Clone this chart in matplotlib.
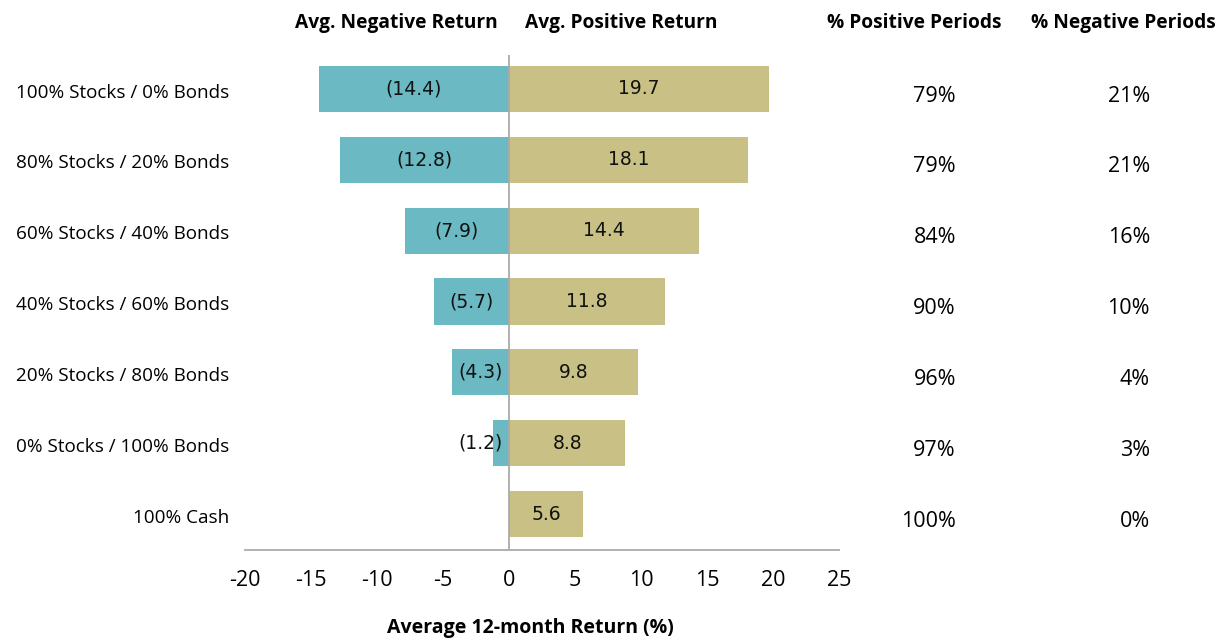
import matplotlib
matplotlib.use("Agg")
import matplotlib.pyplot as plt
import matplotlib.transforms as mtransforms

# data
portfolios = [
    "100% Stocks / 0% Bonds",
    "80% Stocks / 20% Bonds",
    "60% Stocks / 40% Bonds",
    "40% Stocks / 60% Bonds",
    "20% Stocks / 80% Bonds",
    "0% Stocks / 100% Bonds",
    "100% Cash",
]
avg_negative = [-14.4, -12.8, -7.9, -5.7, -4.3, -1.2, 0.0]
avg_positive = [19.7, 18.1, 14.4, 11.8, 9.8, 8.8, 5.6]
pct_positive = ["79%", "79%", "84%", "90%", "96%", "97%", "100%"]
pct_negative = ["21%", "21%", "16%", "10%", "4%", "3%", "0%"]
x_ticks = [-20, -15, -10, -5, 0, 5, 10, 15, 20, 25]

TEAL = "#6bb9c3"
KHAKI = "#c8c085"
GRID = "#aaaaaa"
FONT = "Open Sans"
LABEL_FONT = "DejaVu Sans"

fig = plt.figure(figsize=(12.21, 6.39), dpi=100)
ax = fig.add_axes([0.2007, 0.139, 0.4865, 0.775])

rows = list(range(len(portfolios)))
ax.barh(rows, avg_negative, height=0.65, color=TEAL, zorder=2)
ax.barh(rows, avg_positive, height=0.65, color=KHAKI, zorder=2)
ax.axvline(0, color=GRID, lw=1.3, zorder=3)

for i, (neg, pos) in enumerate(zip(avg_negative, avg_positive)):
    if neg < 0:
        # tiny bars get their label pushed left of the bar
        xpos = min(neg / 2, -2.15)
        ax.text(xpos, i, f"({abs(neg):.1f})", ha="center", va="center",
                fontsize=13.5, family=LABEL_FONT, color="#111111", zorder=4)
    ax.text(pos / 2, i, f"{pos:.1f}", ha="center", va="center",
            fontsize=13.5, family=LABEL_FONT, color="#111111", zorder=4)

ax.set_xlim(-20, 25)
ax.set_ylim(6.51, -0.48)
ax.set_xticks(x_ticks)
ax.set_xticklabels([str(t) for t in x_ticks], family=FONT, fontsize=15.5)
ax.tick_params(axis="x", length=0, pad=14)
ax.set_yticks([])
for side in ["top", "right", "left"]:
    ax.spines[side].set_visible(False)
ax.spines["bottom"].set_color(GRID)
ax.spines["bottom"].set_linewidth(1.3)

# row labels and percentage columns, x in figure coords, y in data coords
trans = mtransforms.blended_transform_factory(fig.transFigure, ax.transData)
for i, name in enumerate(portfolios):
    ax.text(229 / 1221, i + 0.05, name, transform=trans, ha="right", va="center",
            family=FONT, fontsize=13.6, clip_on=False)
    ax.text(956 / 1221, i + 0.1, pct_positive[i], transform=trans, ha="right",
            va="center", family=FONT, fontsize=15.5, clip_on=False)
    ax.text(1150 / 1221, i + 0.1, pct_negative[i], transform=trans, ha="right",
            va="center", family=FONT, fontsize=15.5, clip_on=False)

# column headers
header_y = 1 - 23 / 639
for xc, label in [(396, "Avg. Negative Return"), (621, "Avg. Positive Return"),
                  (914, "% Positive Periods"), (1123, "% Negative Periods")]:
    fig.text(xc / 1221, header_y, label, ha="center", va="center",
             family=FONT, fontweight="bold", fontsize=13.8)

fig.text(530 / 1221, 1 - 628 / 639, "Average 12-month Return (%)", ha="center",
         va="center", family=FONT, fontweight="bold", fontsize=14)

fig.savefig("out.png", dpi=100)
